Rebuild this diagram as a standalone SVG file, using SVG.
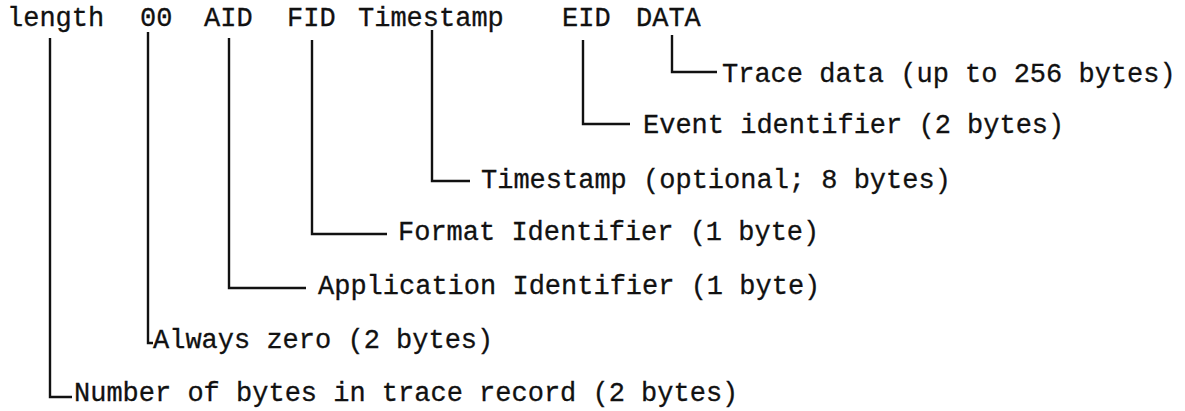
<svg xmlns="http://www.w3.org/2000/svg" width="1185" height="411" viewBox="0 0 1185 411">
  <style>
    text { font-family: "Liberation Mono", "Courier New", monospace; font-size: 27px; fill: #111; stroke: #111; stroke-width: 0.3; }
    .lead { fill: none; stroke: #111; stroke-width: 2.4; stroke-linejoin: miter; stroke-linecap: butt; }
  </style>
  <rect width="1185" height="411" fill="#ffffff"/>

  <!-- record fields across the top -->
  <g id="field-length"><text x="7" y="26">length</text></g>
  <g id="field-00"><text x="140" y="26">00</text></g>
  <g id="field-aid"><text x="204" y="26">AID</text></g>
  <g id="field-fid"><text x="287" y="26">FID</text></g>
  <g id="field-timestamp"><text x="358" y="26">Timestamp</text></g>
  <g id="field-eid"><text x="562" y="26">EID</text></g>
  <g id="field-data"><text x="636" y="26">DATA</text></g>

  <!-- leader lines from each field down to its description -->
  <g id="connectors">
    <path class="lead" d="M672 35 V72 H717"/>
    <path class="lead" d="M583 40 V124 H630"/>
    <path class="lead" d="M432 30 V181 H470"/>
    <path class="lead" d="M312 40 V234 H387"/>
    <path class="lead" d="M229 38 V288 H306"/>
    <path class="lead" d="M148 32 V343 H153"/>
    <path class="lead" d="M50 38 V397 H72"/>
  </g>

  <!-- field descriptions -->
  <g id="desc-data"><text x="722" y="82">Trace data (up to 256 bytes)</text></g>
  <g id="desc-eid"><text x="643" y="133">Event identifier (2 bytes)</text></g>
  <g id="desc-timestamp"><text x="481" y="188">Timestamp (optional; 8 bytes)</text></g>
  <g id="desc-fid"><text x="398" y="240">Format Identifier (1 byte)</text></g>
  <g id="desc-aid"><text x="318" y="294">Application Identifier (1 byte)</text></g>
  <g id="desc-00"><text x="153" y="348">Always zero (2 bytes)</text></g>
  <g id="desc-length"><text x="74" y="401">Number of bytes in trace record (2 bytes)</text></g>
</svg>
